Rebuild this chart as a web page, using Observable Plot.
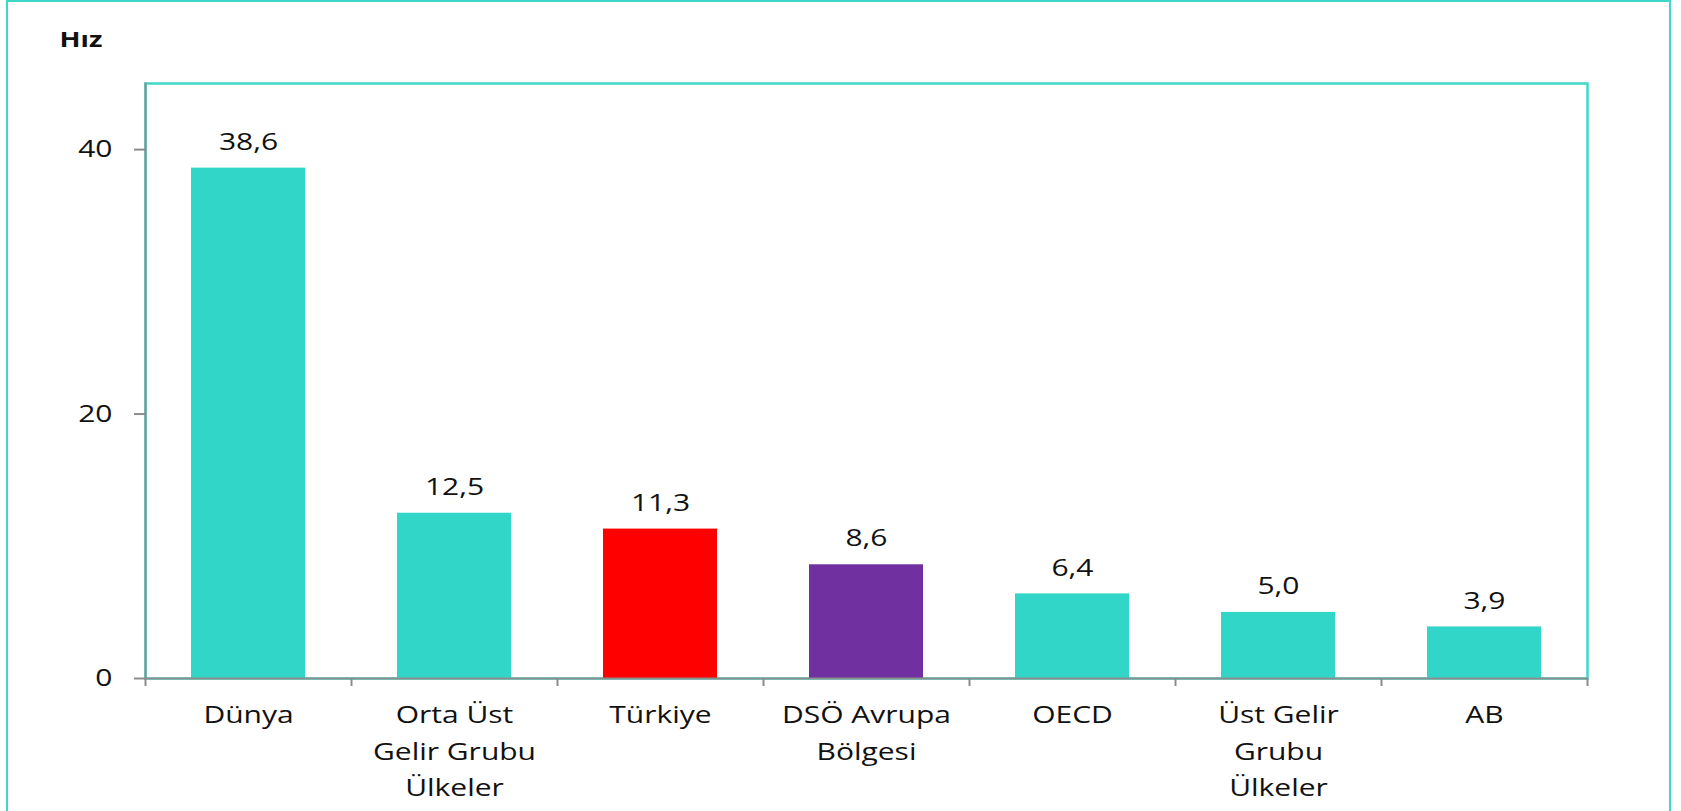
<!DOCTYPE html>
<html><head><meta charset="utf-8">
<script src="https://cdn.jsdelivr.net/npm/d3@7"></script>
<script src="https://cdn.jsdelivr.net/npm/@observablehq/plot@0.6"></script>
<style>
body{margin:0;background:#fff;}
#wrap{position:relative;width:1681px;height:811px;overflow:hidden;}
#border{position:absolute;left:6px;top:0;width:1665px;height:830px;border:2px solid #3ED8CA;box-sizing:border-box;pointer-events:none;}
</style></head><body><div id="wrap"><div id="border"></div></div>
<script>
const categories = ["Dünya", "Orta Üst Gelir Grubu Ülkeler", "Türkiye", "DSÖ Avrupa Bölgesi", "OECD", "Üst Gelir Grubu Ülkeler", "AB"];
const tickLabels = ["Dünya", "Orta Üst\nGelir Grubu\nÜlkeler", "Türkiye", "DSÖ Avrupa\nBölgesi", "OECD", "Üst Gelir\nGrubu\nÜlkeler", "AB"];
const values = [38.6, 12.5, 11.3, 8.6, 6.4, 5.0, 3.9];
const barColors = ["#32D6C8", "#32D6C8", "#FF0000", "#7030A0", "#32D6C8", "#32D6C8", "#32D6C8"];
const yTicks = [0, 20, 40];
const yDomain = [0, 45];
const yTitle = "Hız";

const data = categories.map((c, i) => ({category: c, value: values[i], color: barColors[i]}));
const labelOf = new Map(categories.map((c, i) => [c, tickLabels[i]]));
const fmt = v => v.toFixed(1).replace(".", ",");
const turq = "#3ED8CA", gray = "#8C8C8C", ink = "#111";

const chart = Plot.plot({
  width: 1681, height: 811,
  marginLeft: 145, marginRight: 94, marginTop: 83, marginBottom: 133,
  style: {fontFamily: "'Open Sans', sans-serif", fontSize: "24px", fontWeight: 500, color: ink, background: "transparent"},
  x: {domain: categories, paddingInner: 0.447, paddingOuter: 0.2235, axis: null},
  y: {domain: yDomain, axis: null},
  color: {type: "identity"},
  marks: [
    Plot.frame({stroke: turq, strokeWidth: 2.5}),
    Plot.barY(data, {x: "category", y: "value", fill: "color"}),
    Plot.text(data, {x: "category", y: "value", text: d => fmt(d.value), dy: -26, fontSize: 24, fill: ink}),
    Plot.ruleY([0], {stroke: gray, strokeWidth: 2}),
    Plot.frame({anchor: "left", stroke: gray, strokeWidth: 2}),
    Plot.axisY({ticks: yTicks, tickSize: 11, tickPadding: 22, stroke: gray, strokeWidth: 2, fill: ink, label: null, tickFormat: d => String(d), fontSize: 24}),
    Plot.axisX({tickSize: 0, tickPadding: 19, tickFormat: d => labelOf.get(d), lineHeight: 1.52, label: null, fill: ink, fontSize: 24}),
    Plot.axisX({tickSize: 8, dx: -103, tickFormat: () => "", label: null, stroke: gray, strokeWidth: 2}),
    Plot.axisX([categories[categories.length - 1]], {tickSize: 8, dx: 103, tickFormat: () => "", label: null, stroke: gray, strokeWidth: 2}),
    Plot.text([yTitle], {frameAnchor: "top-left", dx: -86, dy: -52, textAnchor: "start", fontWeight: "bold", fontSize: 22, fill: ink})
  ]
});
document.getElementById("wrap").prepend(chart);
// the reference typeface is horizontally stretched: widen each text about its own anchor point
chart.querySelectorAll("text").forEach(t => {
  const tr = t.getAttribute("transform") || "";
  t.setAttribute("transform", `${tr} scale(1.25,1)`);
});
</script>
</body></html>
